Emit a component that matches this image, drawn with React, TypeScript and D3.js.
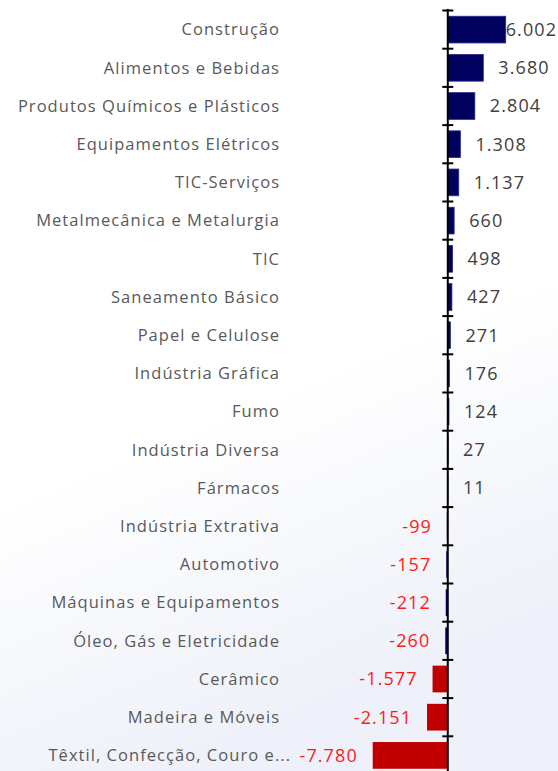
import React from "react";
import * as d3 from "d3";

const categories = [
  "Construção",
  "Alimentos e Bebidas",
  "Produtos Químicos e Plásticos",
  "Equipamentos Elétricos",
  "TIC-Serviços",
  "Metalmecânica e Metalurgia",
  "TIC",
  "Saneamento Básico",
  "Papel e Celulose",
  "Indústria Gráfica",
  "Fumo",
  "Indústria Diversa",
  "Fármacos",
  "Indústria Extrativa",
  "Automotivo",
  "Máquinas e Equipamentos",
  "Óleo, Gás e Eletricidade",
  "Cerâmico",
  "Madeira e Móveis",
  "Têxtil, Confecção, Couro e...",
];

const values = [
  6002, 3680, 2804, 1308, 1137, 660, 498, 427, 271, 176, 124, 27, 11,
  -99, -157, -212, -260, -1577, -2151, -7780,
];

const W = 558;
const H = 771;
const NAVY = "#00005f";
const NAVY_STROKE = "#2b2b8c";
const RED = "#c00000";
const LABEL_RED = "#ff1a1a";
const CAT_LS = 1.05;
const VAL_LS = 1.1;

const fmt = (v: number) => {
  const s = d3.format(",")(Math.abs(v)).replace(/,/g, ".");
  return (v < 0 ? "-" : "") + s;
};

export default function App() {
  const x = d3.scaleLinear().domain([-7780, 6002]).range([372.7, 505.7]);
  const y = d3
    .scaleBand<string>()
    .domain(categories)
    .range([10.5, 10.5 + 20 * 38.2])
    .paddingInner(0.3)
    .paddingOuter(0.15);
  const x0 = x(0);
  const step = y.step();
  const r0 = y.range()[0];
  const tickYs = d3.range(categories.length + 1).map((i) => r0 + i * step);

  return (
    <svg width={W} height={H} style={{ display: "block", position: "absolute", left: 0, top: 0 }}>
      <defs>
        <linearGradient id="bg" x1="0" y1="0" x2="0.3" y2="1">
          <stop offset="0" stopColor="#ffffff" />
          <stop offset="0.6" stopColor="#ffffff" />
          <stop offset="1" stopColor="#eef1f9" />
        </linearGradient>
      </defs>
      <rect x={0} y={0} width={W} height={H} fill="url(#bg)" />
      {categories.map((c, i) => {
        const v = values[i];
        const yy = y(c)!;
        const h = y.bandwidth();
        const color = v > -1000 ? NAVY : RED;
        return (
          <rect
            key={"b" + c}
            x={Math.min(x(v), x0)}
            y={yy}
            width={Math.abs(x(v) - x0)}
            height={h}
            fill={color}
            stroke={v >= 0 ? NAVY_STROKE : "none"}
            strokeWidth={0.8}
          />
        );
      })}
      <line x1={x0} x2={x0} y1={tickYs[0] - 1.5} y2={H} stroke="#000" strokeWidth={2} />
      {tickYs.map((t, i) => (
        <line key={"t" + i} x1={x0 - 5.5} x2={x0 + 5.5} y1={t} y2={t} stroke="#000" strokeWidth={2} />
      ))}
      {categories.map((c, i) => {
        const last = i === categories.length - 1;
        return (
          <text
            key={"c" + c}
            x={(last ? 290 : 279) + CAT_LS}
            y={y(c)! + y.bandwidth() / 2}
            dy="0.35em"
            textAnchor="end"
            fontFamily="'Open Sans', sans-serif"
            fontSize={16.5}
            letterSpacing={CAT_LS}
            fill="#595959"
          >
            {c}
          </text>
        );
      })}
      {categories.map((c, i) => {
        const v = values[i];
        const label = fmt(v);
        const yc = y(c)! + y.bandwidth() / 2;
        if (v >= 0) {
          const estW = label.length * 9.9;
          const sx = x(v) + 15;
          const overflow = sx + estW > W - 1;
          return (
            <text
              key={"v" + c}
              x={overflow ? W - 2 + VAL_LS : sx}
              y={yc}
              dy="0.35em"
              textAnchor={overflow ? "end" : "start"}
              fontFamily="'Open Sans', sans-serif"
              fontSize={18}
              letterSpacing={VAL_LS}
              fill="#404040"
            >
              {label}
            </text>
          );
        }
        return (
          <text
            key={"v" + c}
            x={x(v) - 16 + VAL_LS}
            y={yc}
            dy="0.35em"
            textAnchor="end"
            fontFamily="'Open Sans', sans-serif"
            fontSize={18}
            letterSpacing={VAL_LS}
            fill={LABEL_RED}
          >
            {label}
          </text>
        );
      })}
    </svg>
  );
}
